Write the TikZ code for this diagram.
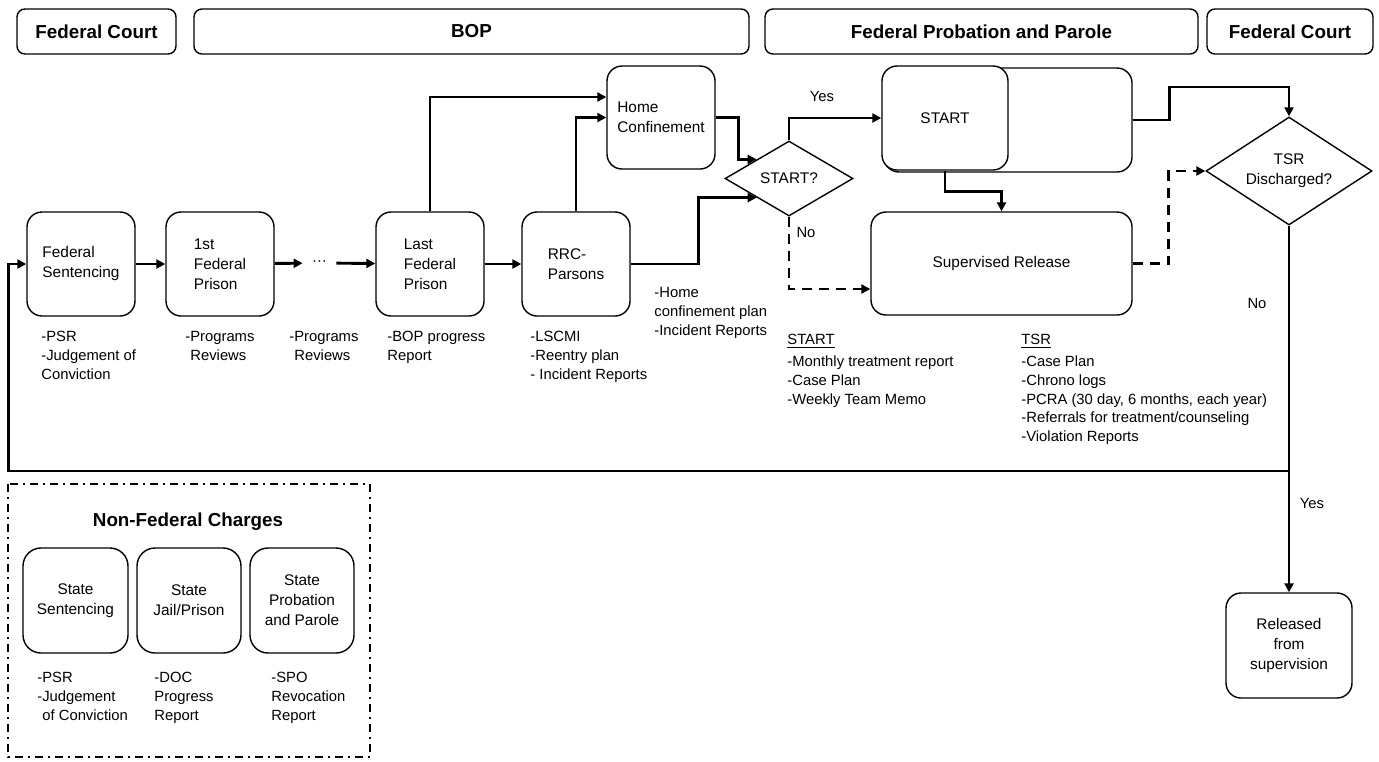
\documentclass[tikz,border=0pt]{standalone}
\usepackage{fontspec}
\setmainfont{Liberation Sans}
\usetikzlibrary{arrows.meta,shapes.geometric}
\newcommand{\boxfont}{\fontsize{7.7}{10}\selectfont}
\newcommand{\notefont}{\fontsize{7.4}{9.4}\selectfont}
\newcommand{\hdrfont}{\fontsize{9.4}{11}\selectfont\bfseries}

\begin{document}
\begin{tikzpicture}[x=0.5pt,y=-0.5pt,
    hdr/.style={draw,rounded corners=4pt,line width=0.7pt,inner sep=0pt,minimum height=22.5pt,font=\hdrfont},
    box/.style={draw,rounded corners=7.5pt,line width=0.7pt,inner sep=0pt,minimum width=54pt,minimum height=52pt,align=left,font=\boxfont},
    decision/.style={draw,diamond,line width=0.7pt,inner sep=0pt,align=center,font=\boxfont},
    note/.style={anchor=north west,inner sep=0pt,align=left,font=\notefont},
    lbl/.style={inner sep=0pt,font=\notefont},
    arr/.style={line width=1.45pt,-{Triangle[length=4.5pt,width=4.5pt]}},
    darr/.style={arr,dash pattern=on 5pt off 3.5pt},
  ]
\useasboundingbox (0,0) rectangle (1379,761);

% agencies
\node[hdr,minimum width=79.5pt] (fc1) at (96.5,31.5) {Federal Court};
\node[hdr,minimum width=277.5pt] (bop) at (471.5,31.5) {BOP};
\node[hdr,minimum width=216.5pt] (fpp) at (981.5,31.5) {Federal Probation and Parole};
\node[hdr,minimum width=83pt] (fc2) at (1290,31.5) {Federal Court};

% federal path
\node[box] (sent) at (81,264) {Federal\\Sentencing};
\node[box] (first) at (220,264) {1st\\Federal\\Prison};
\node[lbl,minimum width=16.5pt] (dots) at (319.5,263) {···};
\node[box] (last) at (430,264) {Last\\Federal\\Prison};
\node[box] (rrc) at (576,264) {RRC-\\Parsons};
\node[box,minimum height=51.5pt] (home) at (661,117.5) {Home\\Confinement};
\node[decision,aspect=1.7,minimum width=64pt,minimum height=37.5pt] (startq) at (789,178.5) {START?};
\node[box,minimum width=124pt] (startbig) at (1008,120) {};
\node[box,fill=white,minimum width=63pt] (startbox) at (945,118) {START};
\node[box,minimum width=130.5pt,minimum height=51.5pt] (sup) at (1001.5,263.5) {Supervised Release};
\node[decision,aspect=1.54,minimum width=83pt,minimum height=54pt] (tsrq) at (1289,171) {TSR\\Discharged?};
\node[box,align=center,minimum width=63pt,minimum height=52.5pt] (rel) at (1289,645.5) {Released\\from\\supervision};

% reports
\node[note] (n1) at (41,331) {-PSR\\-Judgement of\\Conviction};
\node[note] (n2) at (185,331) {-Programs\\\hspace*{2.5pt}Reviews};
\node[note] (n3) at (289,331) {-Programs\\\hspace*{2.5pt}Reviews};
\node[note] (n4) at (387,331) {-BOP progress\\Report};
\node[note] (n5) at (530,331) {-LSCMI\\-Reentry plan\\- Incident Reports};
\node[note] (n6) at (654,287) {-Home\\confinement plan\\-Incident Reports};
\node[note] (nstart) at (787,334) {\underline{START}\\[1.5pt]-Monthly treatment report\\-Case Plan\\-Weekly Team Memo};
\node[note] (ntsr) at (1021,334) {\underline{TSR}\\[1.5pt]-Case Plan\\-Chrono logs\\-PCRA (30 day, 6 months, each year)\\-Referrals for treatment/counseling\\-Violation Reports};

% connectors
\draw[arr] (sent) -- (first);
\draw[arr] (first) -- (dots);
\draw[arr] (dots) -- (last);
\draw[arr] (last) -- (rrc);
\draw[arr] (last.north) |- ([yshift=10.25pt]home.west);
\draw[arr] (rrc.north) |- (home.west);
\draw[arr] (home.east) -- ++(23,0) |- (startq.north west);
\draw[arr] (rrc.east) -- ++(68,0) |- (startq.south west);
\draw[arr] (startq.north) |- (startbox.west);
\draw[darr] (startq.south) |- ([yshift=-12.75pt]sup.west);
\draw[arr] (startbox.south) -- ++(0,21) -| (sup.north);
\draw[arr] (startbig.east) -| ++(37,-33) -| (tsrq.north);
\draw[darr] (sup.east) -- ++(36,0) |- (tsrq.west);
\draw[arr] (tsrq.south) -- (rel.north);
\coordinate (jn) at (1289,471);
\draw[arr] (jn) -| ([xshift=-9pt]sent.west) -- (sent.west);
\node[lbl] (yes1) at (822,96) {Yes};
\node[lbl] (no1) at (806,232) {No};
\node[lbl] (no2) at (1257,303) {No};
\node[lbl] (yes2) at (1312,503) {Yes};

% non-federal charges
\draw[line width=1pt,dash pattern=on 4pt off 2.5pt on 1pt off 2.5pt] (8,484) rectangle (370,757);
\node[font=\hdrfont] (nfc) at (188,522) {Non-Federal Charges};
\node[box,align=center,rounded corners=9pt,minimum width=52.5pt,minimum height=52.5pt] (ss) at (75.5,600.5) {State\\Sentencing};
\node[box,align=center,rounded corners=9pt,minimum width=52pt,minimum height=52.5pt] (sj) at (189,600.5) {State\\Jail/Prison};
\node[box,align=center,rounded corners=9pt,minimum width=52pt,minimum height=52.5pt] (sp) at (302,600.5) {State\\Probation\\and Parole};
\node[note] (nss) at (37,672) {-PSR\\-Judgement\\\hspace*{2.5pt}of Conviction};
\node[note] (nsj) at (154,672) {-DOC\\Progress\\Report};
\node[note] (nsp) at (271,672) {-SPO\\Revocation\\Report};
\end{tikzpicture}
\end{document}
